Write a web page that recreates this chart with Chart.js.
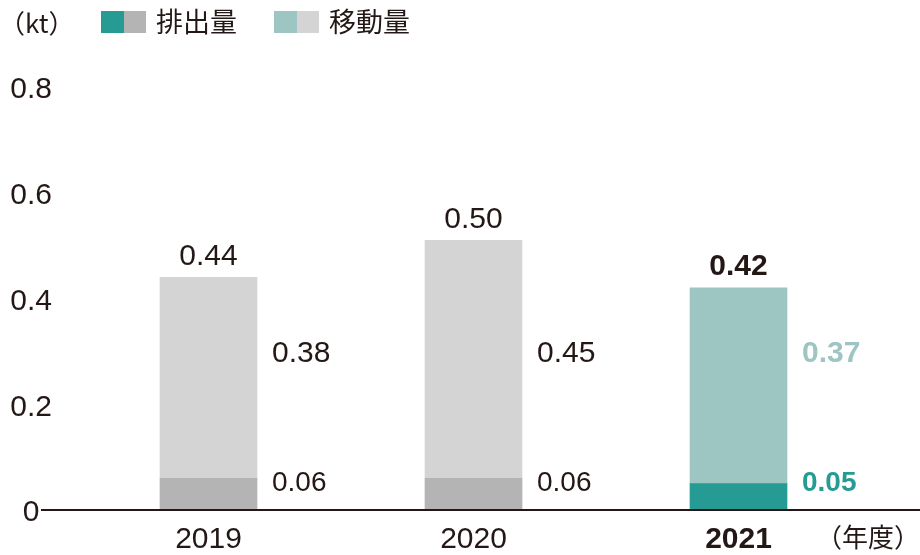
<!DOCTYPE html>
<html>
<head>
<meta charset="utf-8">
<script src="https://cdn.jsdelivr.net/npm/chart.js@4/dist/chart.umd.min.js"></script>
<style>
  html, body { margin: 0; padding: 0; background: #fff; }
  #wrap { width: 920px; height: 555px; position: relative; }
</style>
</head>
<body>
<div id="wrap"><canvas id="prtrChart"></canvas></div>
<script>
// PRTR 排出量・移動量 (kt)
const years = ['2019', '2020', '2021'];
const emission = [0.06, 0.06, 0.05];
const transfer = [0.38, 0.45, 0.37];
const totals = [0.44, 0.50, 0.42];
const yTicks = [0, 0.2, 0.4, 0.6, 0.8];

const INK = '#231815';
const TEAL = '#259b94';
const TEAL_LT = '#9dc5c1';
const GRAY = '#b4b4b4';
const GRAY_LT = '#d4d4d4';
const NUM_FONT = "'Liberation Sans', 'Noto Sans CJK JP', sans-serif";
const JP_FONT = "'Noto Sans CJK JP', sans-serif";

const last = years.length - 1;
const emisColors = years.map((y, i) => i === last ? TEAL : GRAY);
const transColors = years.map((y, i) => i === last ? TEAL_LT : GRAY_LT);

Chart.defaults.font.family = NUM_FONT;
Chart.defaults.color = INK;

// labels, legend, baseline
const decor = {
    id: 'decor',
    afterDatasetsDraw(chart) {
        const ctx = chart.ctx;
        const y = chart.scales.y;
        ctx.save();

        // baseline
        ctx.strokeStyle = INK;
        ctx.lineWidth = 2;
        ctx.beginPath();
        ctx.moveTo(41, y.getPixelForValue(0));
        ctx.lineTo(chart.width, y.getPixelForValue(0));
        ctx.stroke();

        const metaE = chart.getDatasetMeta(0);
        const metaT = chart.getDatasetMeta(1);
        ctx.textBaseline = 'middle';
        years.forEach((yr, i) => {
            const isLast = i === last;
            const barT = metaT.data[i];
            const right = barT.x + barT.width / 2;

            // total above the bar
            ctx.font = (isLast ? 'bold ' : '') + '30px ' + NUM_FONT;
            ctx.fillStyle = INK;
            ctx.textAlign = 'center';
            ctx.fillText(totals[i].toFixed(2), barT.x, barT.y - 21);

            // segment labels to the right
            ctx.textAlign = 'left';
            ctx.fillStyle = isLast ? TEAL_LT : INK;
            ctx.fillText(transfer[i].toFixed(2), right + 15, y.getPixelForValue(0.3) + 2);
            ctx.fillStyle = isLast ? TEAL : INK;
            ctx.font = (isLast ? 'bold ' : '') + '28px ' + NUM_FONT;
            ctx.fillText(emission[i].toFixed(2), right + 15, y.getPixelForValue(0.05));
        });

        // unit + legend
        ctx.fillStyle = INK;
        ctx.font = '26px ' + JP_FONT;
        ctx.textAlign = 'left';
        ctx.fillText('（kt）', -1, 23);

        const legend = [
            { text: '排出量', x: 101, c1: TEAL, c2: GRAY },
            { text: '移動量', x: 274, c1: TEAL_LT, c2: GRAY_LT }
        ];
        legend.forEach(l => {
            ctx.fillStyle = l.c1;
            ctx.fillRect(l.x, 11, 23, 22);
            ctx.fillStyle = l.c2;
            ctx.fillRect(l.x + 23, 11, 22, 22);
            ctx.fillStyle = INK;
            ctx.font = '27px ' + JP_FONT;
            ctx.fillText(l.text, l.x + 55, 22);
        });

        // x unit
        ctx.textAlign = 'right';
        ctx.font = '26px ' + JP_FONT;
        ctx.fillText('（年度）', 920, 537);
        ctx.restore();
    }
};

new Chart(document.getElementById('prtrChart'), {
    type: 'bar',
    data: {
        labels: years,
        datasets: [{
            label: '排出量',
            data: emission,
            backgroundColor: emisColors,
            borderWidth: 0,
            barThickness: 97,
        }, {
            label: '移動量',
            data: transfer,
            backgroundColor: transColors,
            borderWidth: 0,
            barThickness: 97,
        }]
    },
    options: {
        responsive: true,
        maintainAspectRatio: false,
        animation: false,
        layout: { padding: { top: 87, right: 49, left: 0, bottom: 0 } },
        plugins: { legend: { display: false }, tooltip: { enabled: false } },
        scales: {
            x: {
                stacked: true,
                grid: { display: false },
                border: { display: false },
                afterFit: s => { s.height = 45; },
                ticks: {
                    padding: 4,
                    color: INK,
                    font: c => ({ size: 30, weight: c.index === last ? 'bold' : 'normal' })
                }
            },
            y: {
                stacked: true,
                min: 0,
                max: 0.8,
                grid: { display: false },
                border: { display: false },
                afterFit: s => { s.width = 76; },
                afterBuildTicks: s => { s.ticks = yTicks.map(v => ({ value: v })); },
                ticks: {
                    crossAlign: 'center',
                    padding: 16,
                    labelOffset: 3,
                    color: INK,
                    font: { size: 30 },
                    callback: v => v === 0 ? '0' : v.toFixed(1)
                }
            }
        }
    },
    plugins: [decor]
});
</script>
</body>
</html>
